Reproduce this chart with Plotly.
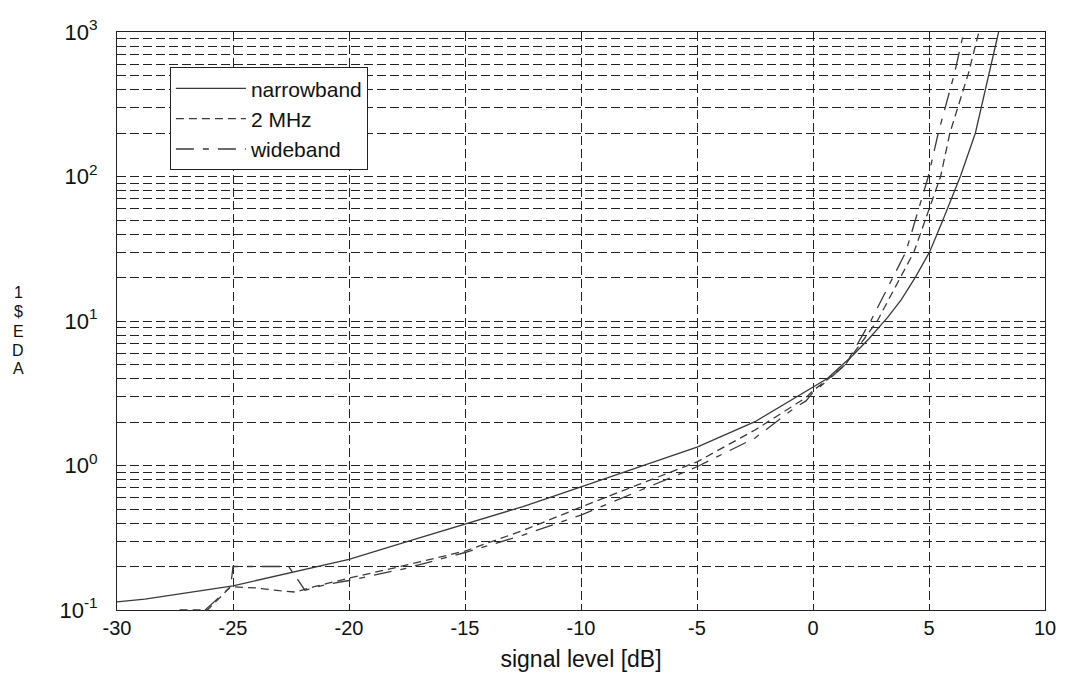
import plotly.graph_objects as go

# ---- data ----
narrow_x = [-30, -28.8, -25, -20, -17.5, -15, -12.5, -10, -7.5, -5, -2.5, -0.7, 0, 0.62, 1.72, 2.4, 3.2, 3.8, 4.43, 5.03, 5.6, 6.37, 7.0, 7.6, 8.0]
narrow_y = [0.114, 0.119, 0.147, 0.224, 0.297, 0.392, 0.52, 0.71, 0.98, 1.34, 2.01, 2.99, 3.45, 4.0, 5.8, 7.5, 10.5, 14, 20.3, 30.2, 50, 102, 200, 518, 1000]

mhz2_x = [-27.3, -26.1, -25.1, -24.0, -23.0, -22.3, -21.5, -20, -17.5, -15, -12.5, -10, -7.5, -5, -2.5, -0.8, -0.3, 0, 0.6, 1.4, 2.77, 4.35, 5.5, 5.9, 6.7, 7.15]
mhz2_y = [0.1, 0.1, 0.145, 0.142, 0.136, 0.133, 0.145, 0.166, 0.205, 0.256, 0.355, 0.516, 0.74, 1.06, 1.76, 2.65, 2.95, 3.3, 3.9, 5.0, 10, 30, 100, 200, 518, 1000]

wide_x = [-26.2, -25.1, -25.0, -22.6, -21.9, -21, -20, -17.5, -15, -12.5, -10, -7.5, -5, -2.5, -0.8, -0.3, 0, 0.6, 1.4, 2.49, 4.0, 4.97, 5.4, 6.1, 6.5]
wide_y = [0.1, 0.145, 0.2, 0.2, 0.137, 0.15, 0.16, 0.195, 0.25, 0.33, 0.454, 0.667, 0.98, 1.55, 2.5, 2.8, 3.2, 3.85, 5.0, 10, 30, 100, 200, 518, 1000]

series_names = ["narrowband", "2 MHz", "wideband"]

x_ticks = [-30, -25, -20, -15, -10, -5, 0, 5, 10]
x_ticklabels = ["-30", "-25", "-20", "-15", "-10", "-5", "0", "5", "10"]
y_ticks = [0.1, 1, 10, 100, 1000]
y_ticklabels = ["10<sup>-1</sup>", "10<sup>0</sup>", "10<sup>1</sup>", "10<sup>2</sup>", "10<sup>3</sup>"]
ylabel_chars = ["1", "$", "E", "D", "A"]

FONT = "Liberation Sans, Arial, sans-serif"
LINE_COL = "#3a3a3a"
GRID_COL = "#222222"

fig = go.Figure()
fig.add_trace(go.Scatter(x=narrow_x, y=narrow_y, mode="lines", name=series_names[0],
                         line=dict(color=LINE_COL, width=1.3, dash="solid")))
fig.add_trace(go.Scatter(x=mhz2_x, y=mhz2_y, mode="lines", name=series_names[1],
                         line=dict(color=LINE_COL, width=1.3, dash="8px,5px")))
fig.add_trace(go.Scatter(x=wide_x, y=wide_y, mode="lines", name=series_names[2],
                         line=dict(color=LINE_COL, width=1.3, dash="18px,9px,6px,9px")))

fig.update_layout(
    width=1072, height=673,
    margin=dict(l=117, r=27, t=32, b=63),
    paper_bgcolor="white", plot_bgcolor="white",
    font=dict(family=FONT, color="#111111"),
    showlegend=True,
    legend=dict(x=0.057, y=0.939, xanchor="left", yanchor="top",
                bgcolor="white", bordercolor="#222222", borderwidth=1,
                font=dict(size=21, family=FONT), tracegroupgap=0,
                itemwidth=70),
)

fig.update_xaxes(
    range=[-30, 10], tickmode="array", tickvals=x_ticks, ticktext=x_ticklabels,
    tickfont=dict(size=20), showgrid=True, gridcolor=GRID_COL, gridwidth=1, griddash="9px,4px",
    zeroline=False, showline=True, linecolor="#222222", linewidth=1, mirror=True,
    ticks="inside", ticklen=6, tickcolor="#222222", automargin=False,
    title=dict(text="signal level [dB]", font=dict(size=23), standoff=12),
)
fig.update_yaxes(
    type="log", range=[-1, 3], tickmode="array", tickvals=y_ticks, ticktext=y_ticklabels,
    tickfont=dict(size=22), ticklabelstandoff=14, automargin=False,
    showgrid=True, gridcolor=GRID_COL, gridwidth=1, griddash="9px,4px",
    zeroline=False, showline=True, linecolor="#222222", linewidth=1, mirror=True,
    ticks="inside", ticklen=6, tickcolor="#222222",
    minor=dict(dtick="D1", showgrid=True, gridcolor=GRID_COL, gridwidth=1, griddash="9px,4px",
               ticks="inside", ticklen=4, tickcolor="#222222"),
)

# garbled stacked y-axis label, as in the reference
ylabel_py = [292, 311, 331, 350, 369]
for ch, py in zip(ylabel_chars, ylabel_py):
    fig.add_annotation(text=ch, xref="paper", yref="paper",
                       x=(18 - 117) / 928, y=(610 - py) / 578,
                       xanchor="center", yanchor="middle", showarrow=False,
                       font=dict(size=16, family=FONT, color="#111111"))

fig.write_html("out.html")
